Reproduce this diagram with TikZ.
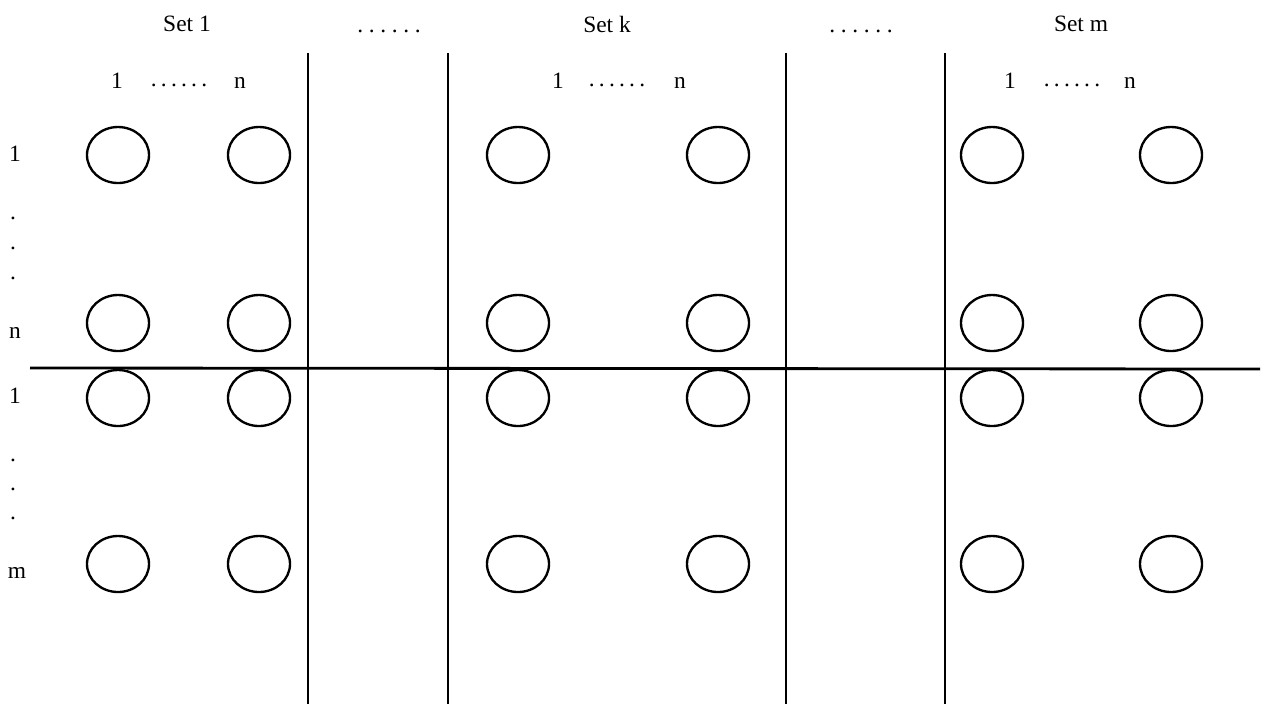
\documentclass[tikz,border=0pt]{standalone}
\usepackage{fontspec}
\setmainfont{Liberation Serif}
\usetikzlibrary{shapes.geometric}

\newcommand{\sixdots}[1]{.\hspace{#1}.\hspace{#1}.\hspace{#1}.\hspace{#1}.\hspace{#1}.}

\begin{document}
\begin{tikzpicture}[x={(0.015cm,0cm)},y={(0cm,-0.015cm)},
  every node/.style={inner sep=0pt, outer sep=0pt, font=\normalsize},
  cell/.style={draw, ellipse, line width=1pt, minimum width=0.93cm, minimum height=0.84cm},
  bar/.style={line width=1.2pt}]

\useasboundingbox (0,0) rectangle (1269,704);

% set titles
\node (set1) at (187,24) {Set 1};
\node (gap1) at (389,31) {\sixdots{2.4pt}};
\node (setk) at (607,24) {Set k};
\node (gap2) at (861,31) {\sixdots{2.4pt}};
\node (setm) at (1081,24) {Set m};

% column labels
\node (c1a) at (117,81) {1};
\node (c1d) at (179,85) {\sixdots{1.8pt}};
\node (c1b) at (240,83) {n};
\node (cka) at (558,81) {1};
\node (ckd) at (617,85) {\sixdots{1.8pt}};
\node (ckb) at (680,83) {n};
\node (cma) at (1010,81) {1};
\node (cmd) at (1072,85) {\sixdots{1.8pt}};
\node (cmb) at (1130,83) {n};

% row labels
\node (r1) at (15,154) {1};
\node (rd1) at (13,218) {.};
\node (rd2) at (13,248) {.};
\node (rd3) at (13,278) {.};
\node (rn) at (15,333) {n};
\node (s1) at (15,396) {1};
\node (sd1) at (13,460) {.};
\node (sd2) at (13,489) {.};
\node (sd3) at (13,518) {.};
\node (sm) at (17,573) {m};

% circles
\node[cell] (a11) at (118,155) {};
\node[cell] (a12) at (259,155) {};
\node[cell] (a13) at (518,155) {};
\node[cell] (a14) at (718,155) {};
\node[cell] (a15) at (992,155) {};
\node[cell] (a16) at (1171,155) {};
\node[cell] (a21) at (118,323) {};
\node[cell] (a22) at (259,323) {};
\node[cell] (a23) at (518,323) {};
\node[cell] (a24) at (718,323) {};
\node[cell] (a25) at (992,323) {};
\node[cell] (a26) at (1171,323) {};
\node[cell] (a31) at (118,398) {};
\node[cell] (a32) at (259,398) {};
\node[cell] (a33) at (518,398) {};
\node[cell] (a34) at (718,398) {};
\node[cell] (a35) at (992,398) {};
\node[cell] (a36) at (1171,398) {};
\node[cell] (a41) at (118,564) {};
\node[cell] (a42) at (259,564) {};
\node[cell] (a43) at (518,564) {};
\node[cell] (a44) at (718,564) {};
\node[cell] (a45) at (992,564) {};
\node[cell] (a46) at (1171,564) {};

% dividers
\draw[bar] (308,53) -- (308,704);
\draw[bar] (448,53) -- (448,704);
\draw[bar] (786,53) -- (786,704);
\draw[bar] (945,53) -- (945,704);
\draw[bar] (30,368) -- (1260,369);
\end{tikzpicture}
\end{document}
